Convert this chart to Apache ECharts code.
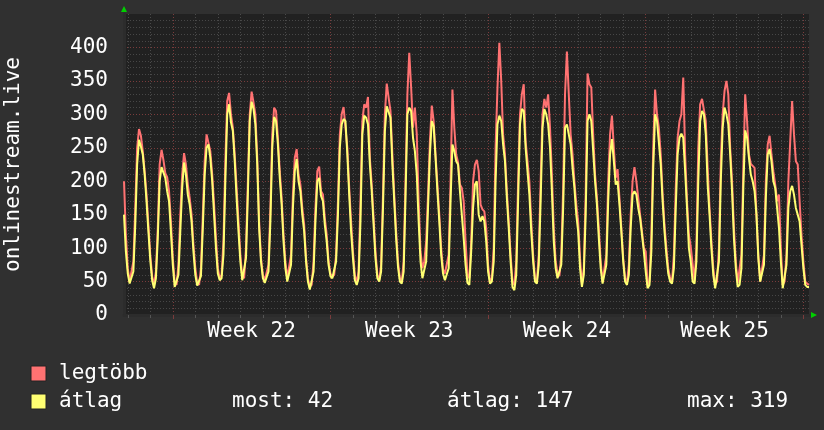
<!DOCTYPE html>
<html>
<head>
<meta charset="utf-8">
<script src="https://cdn.jsdelivr.net/npm/echarts@6/dist/echarts.min.js"></script>
<style>
  html, body { margin: 0; padding: 0; background: #303030; }
  #chart { width: 824px; height: 430px; }
</style>
</head>
<body>
<div id="chart"></div>
<script>
// 2-hour samples, first one is Friday 20:00 before week 22 (hour -52 from Monday 00:00)
const startHour = -52
const stepHours = 2

// legtöbb (max) series
const maxVals = [
  200, 120, 70, 50, 52, 80, 160, 250, 278, 268, 245, 215,
  180, 135, 90, 58, 45, 65, 130, 225, 247, 232, 212, 206,
  185, 140, 85, 50, 45, 75, 150, 210, 242, 225, 195, 175,
  150, 105, 70, 48, 45, 70, 150, 230, 270, 270, 245, 210,
  165, 115, 70, 55, 60, 110, 230, 320, 332, 300, 280, 240,
  190, 140, 90, 58, 55, 100, 200, 300, 334, 318, 300, 235,
  140, 85, 60, 52, 50, 75, 160, 270, 310, 305, 265, 215,
  175, 120, 80, 55, 55, 90, 180, 235, 248, 210, 195, 160,
  135, 85, 55, 42, 45, 80, 160, 215, 222, 185, 180, 145,
  120, 80, 62, 57, 60, 90, 170, 270, 300, 311, 310, 250,
  190, 140, 95, 60, 48, 65, 170, 290, 315, 310, 326, 235,
  195, 145, 95, 60, 52, 75, 180, 300, 346, 325, 305, 240,
  180, 125, 80, 55, 50, 80, 200, 330, 392, 340, 280, 310,
  270, 170, 95, 70, 80, 110, 180, 260, 313, 290, 240, 195,
  150, 100, 68, 62, 60, 90, 200, 337, 280, 240, 228, 195,
  190, 170, 110, 60, 55, 110, 200, 225, 232, 215, 165, 158,
  155, 130, 75, 50, 55, 100, 250, 340, 407, 350, 270, 240,
  185, 140, 90, 50, 45, 80, 200, 300, 330, 345, 260, 230,
  200, 140, 90, 55, 50, 90, 200, 300, 323, 310, 330, 280,
  210, 130, 80, 62, 58, 90, 190, 330, 394, 330, 270, 240,
  200, 165, 140, 85, 45, 70, 180, 361, 345, 340, 270, 210,
  175, 130, 80, 50, 50, 90, 200, 270, 298, 250, 205, 218,
  175, 130, 85, 55, 48, 75, 150, 200, 221, 200, 175, 150,
  125, 100, 95, 45, 50, 120, 250, 337, 300, 280, 240, 180,
  135, 100, 70, 55, 50, 90, 190, 265, 290, 300, 355, 240,
  170, 120, 102, 100, 50, 100, 250, 315, 323, 323, 290, 220,
  160, 110, 70, 45, 50, 100, 230, 300, 335, 350, 330, 250,
  200, 130, 80, 48, 50, 90, 220, 330, 290, 240, 226, 226,
  220, 150, 90, 50, 52, 90, 200, 255, 268, 240, 215, 195,
  170, 180, 100, 45, 50, 90, 200, 260, 320, 270, 230, 225,
  170, 120, 80, 50, 47, 45
]

// átlag (average) series
const avgVals = [
  150, 95, 62, 47, 48, 65, 135, 225, 262, 252, 240, 210,
  170, 125, 82, 52, 40, 55, 115, 200, 221, 220, 205, 185,
  170, 125, 75, 42, 40, 60, 125, 190, 228, 210, 180, 165,
  140, 95, 60, 44, 42, 58, 130, 210, 250, 255, 235, 200,
  150, 100, 62, 52, 55, 90, 200, 300, 315, 288, 275, 230,
  175, 125, 80, 52, 50, 85, 180, 290, 319, 308, 285, 225,
  130, 80, 55, 48, 47, 65, 140, 250, 296, 290, 255, 205,
  165, 110, 70, 50, 50, 75, 160, 215, 233, 200, 185, 150,
  125, 80, 50, 38, 40, 65, 140, 200, 205, 178, 170, 135,
  110, 75, 58, 55, 56, 80, 150, 250, 285, 293, 290, 240,
  180, 125, 85, 52, 45, 55, 140, 270, 298, 295, 285, 225,
  185, 135, 85, 55, 50, 65, 160, 275, 312, 310, 295, 225,
  170, 115, 72, 50, 47, 65, 175, 300, 310, 305, 265, 245,
  210, 140, 80, 55, 55, 80, 160, 240, 290, 282, 235, 185,
  140, 90, 62, 52, 52, 70, 170, 255, 245, 230, 225, 185,
  150, 115, 75, 48, 45, 95, 160, 195, 200, 150, 140, 148,
  140, 110, 65, 47, 50, 80, 200, 285, 298, 290, 255, 230,
  175, 130, 80, 42, 37, 60, 170, 285, 308, 305, 250, 215,
  180, 125, 80, 50, 47, 75, 170, 280, 308, 300, 285, 250,
  185, 110, 70, 55, 55, 75, 160, 280, 285, 270, 255, 220,
  190, 150, 125, 70, 42, 60, 150, 290, 300, 290, 245, 200,
  165, 115, 70, 47, 45, 75, 170, 240, 263, 230, 195, 200,
  165, 125, 80, 50, 45, 60, 130, 180, 185, 180, 160, 145,
  120, 95, 65, 40, 45, 95, 220, 300, 290, 258, 225, 170,
  125, 90, 62, 50, 47, 70, 160, 240, 265, 271, 265, 215,
  160, 100, 80, 50, 47, 80, 200, 290, 305, 300, 270, 195,
  150, 100, 60, 40, 42, 80, 200, 280, 310, 300, 285, 240,
  185, 115, 70, 42, 45, 70, 190, 276, 265, 235, 210, 200,
  185, 150, 85, 50, 48, 75, 175, 240, 248, 230, 200, 190,
  160, 130, 80, 40, 42, 75, 160, 185, 193, 180, 160, 158,
  140, 105, 70, 45, 42, 42
]

const weekLabels = ['Week 22', 'Week 23', 'Week 24', 'Week 25']
const seriesNames = ['legtöbb', 'átlag']
const statLabels = ['most: 42', 'átlag: 147', 'max: 319']

const FONT = 'DejaVu Sans Mono'
const RED = '#ff7272'
const YELLOW = '#ffff72'
const WEEK_RED = '#7a3c3c'

const hours = maxVals.map((v, i) => String(startHour + i * stepHours))
const mod = (a, n) => ((a % n) + n) % n
const isWeek = (i, v) => mod(Number(v), 168) === 0
const isDay = (i, v) => mod(Number(v), 24) === 0 && !isWeek(i, v)
const isWeekMid = (i, v) => mod(Number(v), 168) === 84

const chart = echarts.init(document.getElementById('chart'))

// major y lines are red, the one at the very top is hidden
const majorColors = []
for (let i = 0; i < 9; i++) majorColors.push(WEEK_RED)
majorColors.push('rgba(0,0,0,0)')

chart.setOption({
  animation: false,
  backgroundColor: '#303030',
  textStyle: { fontFamily: FONT },
  grid: {
    left: 124, right: 15, top: 14, bottom: 115,
    outerBoundsMode: 'none',
    containLabel: false,
    show: true, backgroundColor: '#212121', borderWidth: 0
  },
  xAxis: [
    {
      type: 'category',
      data: hours,
      boundaryGap: false,
      axisLine: { show: true, lineStyle: { color: '#2c2c2c', width: 3 } },
      axisTick: { show: true, interval: isDay, length: 3, lineStyle: { color: '#555' } },
      axisLabel: {
        interval: isWeekMid,
        color: '#ffffff',
        fontSize: 21,
        fontFamily: FONT,
        margin: 6,
        formatter: v => weekLabels[Math.floor(Number(v) / 168)] || ''
      },
      splitLine: { show: true, interval: isDay, lineStyle: { color: '#4a4a4a', type: [1, 2] } }
    },
    {
      type: 'category',
      data: hours,
      boundaryGap: false,
      position: 'bottom',
      axisLine: { show: false },
      axisTick: { show: true, interval: isWeek, length: 4, lineStyle: { color: WEEK_RED } },
      axisLabel: { show: false },
      splitLine: { show: true, interval: isWeek, lineStyle: { color: WEEK_RED, type: [1, 2] } }
    }
  ],
  yAxis: {
    type: 'value',
    min: 0,
    max: 450,
    interval: 50,
    name: 'onlinestream.live',
    nameLocation: 'middle',
    nameRotate: 90,
    nameGap: 100,
    nameMoveOverlap: false,
    nameTextStyle: { color: '#ffffff', fontSize: 21, fontFamily: FONT },
    axisLine: { show: true, lineStyle: { color: '#2c2c2c', width: 3 } },
    axisTick: { show: false },
    axisLabel: { color: '#ffffff', fontSize: 21, fontFamily: FONT, margin: 16, showMaxLabel: false },
    splitLine: { show: true, lineStyle: { color: majorColors, type: [1, 2] } },
    minorTick: { show: false, splitNumber: 5 },
    minorSplitLine: { show: true, lineStyle: { color: '#474747', type: [1, 2] } }
  },
  series: [
    {
      name: seriesNames[0],
      type: 'line',
      data: maxVals,
      showSymbol: false,
      lineStyle: { color: RED, width: 2 },
      itemStyle: { color: RED }
    },
    {
      name: seriesNames[1],
      type: 'line',
      data: avgVals,
      showSymbol: false,
      lineStyle: { color: YELLOW, width: 2 },
      itemStyle: { color: YELLOW }
    }
  ],
  graphic: [
    // axis arrows
    { type: 'polygon', shape: { points: [[121, 12], [127, 12], [124, 6]] }, style: { fill: '#00d000' } },
    { type: 'polygon', shape: { points: [[811, 312], [811, 318], [817, 315]] }, style: { fill: '#00d000' } },
    // legend
    { type: 'rect', shape: { x: 31, y: 366, width: 15, height: 15 }, style: { fill: RED, stroke: '#222', lineWidth: 1 } },
    { type: 'rect', shape: { x: 31, y: 394, width: 15, height: 15 }, style: { fill: YELLOW, stroke: '#222', lineWidth: 1 } },
    { type: 'text', left: 59, top: 363, style: { text: seriesNames[0], fill: '#fff', font: '21px "DejaVu Sans Mono"' } },
    { type: 'text', left: 59, top: 391, style: { text: seriesNames[1], fill: '#fff', font: '21px "DejaVu Sans Mono"' } },
    { type: 'text', left: 232, top: 391, style: { text: statLabels[0], fill: '#fff', font: '21px "DejaVu Sans Mono"' } },
    { type: 'text', left: 447, top: 391, style: { text: statLabels[1], fill: '#fff', font: '21px "DejaVu Sans Mono"' } },
    { type: 'text', left: 687, top: 391, style: { text: statLabels[2], fill: '#fff', font: '21px "DejaVu Sans Mono"' } }
  ]
})
</script>
</body>
</html>
